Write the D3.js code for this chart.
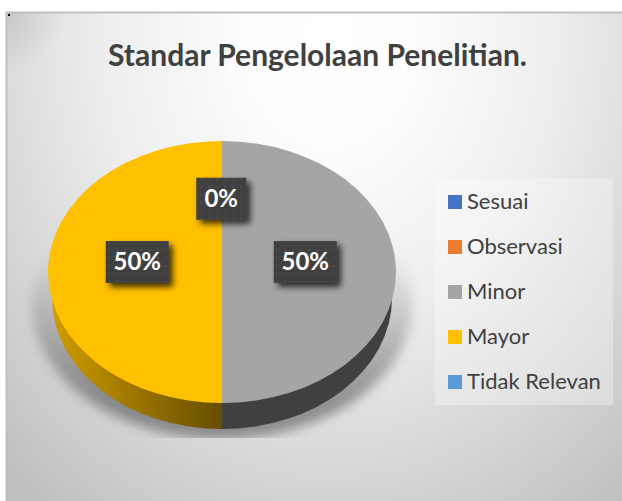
<!DOCTYPE html>
<html>
<head>
<meta charset="utf-8">
<style>
  html, body { margin: 0; padding: 0; background: #fff; }
  svg { display: block; }
</style>
<script src="https://cdn.jsdelivr.net/npm/d3@7"></script>
</head>
<body>
<div id="root"></div>
<script>
// chart data
var categories = ["Sesuai", "Observasi", "Minor", "Mayor", "Tidak Relevan"];
var values = [0, 0, 50, 50, 0];
var labelled = ["Sesuai", "Minor", "Mayor"];
var chartTitle = "Standar Pengelolaan Penelitian.";

var topColors = ["#4472c4", "#ed7d31", "#a5a5a5", "#ffc000", "#5b9bd5"];
var wallColors = ["#4472c4", "#ed7d31", "#404040", "url(#wallYellow)", "#5b9bd5"];
var color = d3.scaleOrdinal(categories, topColors);
var wallColor = d3.scaleOrdinal(categories, wallColors);

var width = 622, height = 501;
var frame = { left: 6, top: 12 };
var cx = 222, cy = 272, radius = 174, squash = 131 / 174, depth = 26;
var wallRadius = 170, wallSquash = 131 / 170;

var svg = d3.select("#root").append("svg")
    .attr("width", width)
    .attr("height", height)
    .style("font-family", "Lato, sans-serif");

var defs = svg.append("defs");

// chart background, light spot near the top
var bg = defs.append("radialGradient").attr("id", "bg")
    .attr("gradientUnits", "userSpaceOnUse")
    .attr("cx", 0).attr("cy", 0).attr("r", 600)
    .attr("gradientTransform", "translate(330,40) scale(0.81,1)");
[[0, "#ffffff"], [0.17, "#fdfdfd"], [0.475, "#ededed"], [0.73, "#d6d6d6"], [0.97, "#c0c0c0"]].forEach(function (s) {
    bg.append("stop").attr("offset", s[0]).attr("stop-color", s[1]);
});

var corner = defs.append("radialGradient").attr("id", "corner")
    .attr("gradientUnits", "userSpaceOnUse")
    .attr("cx", frame.left).attr("cy", frame.top).attr("r", 60);
corner.append("stop").attr("offset", 0).attr("stop-color", "#000").attr("stop-opacity", 0.1);
corner.append("stop").attr("offset", 1).attr("stop-color", "#000").attr("stop-opacity", 0);

// wall gradient runs in the wall's own (centred) coordinates
var wallYellow = defs.append("linearGradient").attr("id", "wallYellow")
    .attr("gradientUnits", "userSpaceOnUse")
    .attr("x1", -wallRadius).attr("x2", 0).attr("y1", 0).attr("y2", 0);
wallYellow.append("stop").attr("offset", 0).attr("stop-color", "#cf9c00");
wallYellow.append("stop").attr("offset", 1).attr("stop-color", "#664d00");

// pie shadow fades out towards the top
var shadowFade = defs.append("linearGradient").attr("id", "shadowFade")
    .attr("gradientUnits", "userSpaceOnUse")
    .attr("x1", 0).attr("x2", 0).attr("y1", 250).attr("y2", 400);
shadowFade.append("stop").attr("offset", 0).attr("stop-color", "#000").attr("stop-opacity", 0);
shadowFade.append("stop").attr("offset", 1).attr("stop-color", "#000").attr("stop-opacity", 0.36);

var blur = defs.append("filter").attr("id", "blur")
    .attr("x", "-20%").attr("y", "-20%").attr("width", "140%").attr("height", "140%");
blur.append("feGaussianBlur").attr("stdDeviation", 6);

var labelShadow = defs.append("filter").attr("id", "labelShadow")
    .attr("x", "-30%").attr("y", "-30%").attr("width", "170%").attr("height", "170%");
labelShadow.append("feGaussianBlur").attr("in", "SourceAlpha").attr("stdDeviation", 3);
labelShadow.append("feOffset").attr("dx", 4).attr("dy", 4).attr("result", "off");
labelShadow.append("feComponentTransfer").append("feFuncA").attr("type", "linear").attr("slope", 0.75);
var merge = labelShadow.append("feMerge");
merge.append("feMergeNode");
merge.append("feMergeNode").attr("in", "SourceGraphic");

// dotted fill of the data label boxes
var dots = defs.append("pattern").attr("id", "dots")
    .attr("patternUnits", "userSpaceOnUse")
    .attr("width", 8).attr("height", 8);
dots.append("rect").attr("width", 8).attr("height", 8).attr("fill", "#404040");
dots.append("circle").attr("cx", 4).attr("cy", 4).attr("r", 1).attr("fill", "#525252");

defs.append("clipPath").attr("id", "shadowClip")
    .append("rect").attr("x", 0).attr("y", 240).attr("width", width).attr("height", 198);

// background and frame
svg.append("rect").attr("x", frame.left).attr("y", frame.top)
    .attr("width", width - frame.left).attr("height", height - frame.top)
    .attr("fill", "url(#bg)");
svg.append("rect").attr("x", frame.left).attr("y", frame.top)
    .attr("width", width - frame.left).attr("height", height - frame.top)
    .attr("fill", "url(#corner)");
svg.append("path")
    .attr("d", "M" + (frame.left + 0.5) + "," + height + "V" + (frame.top + 0.5) + "H" + width)
    .attr("fill", "none").attr("stroke", "#bfbfbf").attr("stroke-width", 2);
svg.append("rect").attr("x", 8).attr("y", 14).attr("width", 2).attr("height", 2).attr("fill", "#000");

// title
svg.append("text")
    .attr("x", 317.5)
    .attr("y", 66)
    .attr("text-anchor", "middle")
    .attr("font-size", 30)
    .attr("font-weight", 700)
    .attr("fill", "#404040")
    .text(chartTitle);

// pie
var pie = d3.pie().sort(null).value(function (d, i) { return values[i]; });
var slices = pie(categories);
var shown = slices.filter(function (d) { return d.value > 0; });
var arc = d3.arc().innerRadius(0).outerRadius(radius);
var wallArc = d3.arc().innerRadius(0).outerRadius(wallRadius);
var labelArc = d3.arc().innerRadius(84).outerRadius(84);

// soft shadow under the pie
svg.append("g").attr("clip-path", "url(#shadowClip)")
    .append("ellipse")
    .attr("cx", cx).attr("cy", cy + depth + 6)
    .attr("rx", 190).attr("ry", 135)
    .attr("fill", "url(#shadowFade)")
    .attr("filter", "url(#blur)");

// side wall: same slices pushed down, the top face covers the rest
svg.append("g")
    .attr("transform", "translate(" + cx + "," + (cy + depth) + ") scale(1," + wallSquash + ")")
    .selectAll("path")
    .data(shown)
    .join("path")
    .attr("d", wallArc)
    .attr("fill", function (d) { return wallColor(d.data); });

// top face
svg.append("g")
    .attr("transform", "translate(" + cx + "," + cy + ") scale(1," + squash + ")")
    .selectAll("path")
    .data(shown)
    .join("path")
    .attr("d", arc)
    .attr("fill", function (d) { return color(d.data); });

// data labels
var labels = svg.append("g").selectAll("g")
    .data(slices.filter(function (d) { return labelled.indexOf(d.data) >= 0; }))
    .join("g")
    .attr("transform", function (d) {
        var c = labelArc.centroid(d);
        return "translate(" + (cx - 0.75 + c[0]) + "," + (cy + c[1] * squash - 10) + ")";
    });

labels.append("rect")
    .attr("x", function (d) { return d.value > 0 ? -31.5 : -25; })
    .attr("y", -21)
    .attr("width", function (d) { return d.value > 0 ? 63 : 50; })
    .attr("height", 42)
    .attr("fill", "url(#dots)")
    .attr("filter", "url(#labelShadow)");

labels.append("text")
    .attr("text-anchor", "middle")
    .attr("y", 8)
    .attr("font-size", 24)
    .attr("font-weight", 700)
    .attr("fill", "#fff")
    .text(function (d) { return d.value + "%"; });

// legend
var legendY = d3.scalePoint().domain(categories).range([202, 382]);

svg.append("rect")
    .attr("x", 435).attr("y", 179)
    .attr("width", 178).attr("height", 226)
    .attr("fill", "#fff").attr("opacity", 0.3);

var legend = svg.append("g").selectAll("g")
    .data(categories)
    .join("g")
    .attr("transform", function (d) { return "translate(448," + legendY(d) + ")"; });

legend.append("rect")
    .attr("y", -7).attr("width", 14).attr("height", 14)
    .attr("fill", function (d) { return color(d); });

legend.append("text")
    .attr("x", 19)
    .attr("y", 7)
    .attr("font-size", 22)
    .attr("fill", "#404040")
    .text(function (d) { return d; });
</script>
</body>
</html>
